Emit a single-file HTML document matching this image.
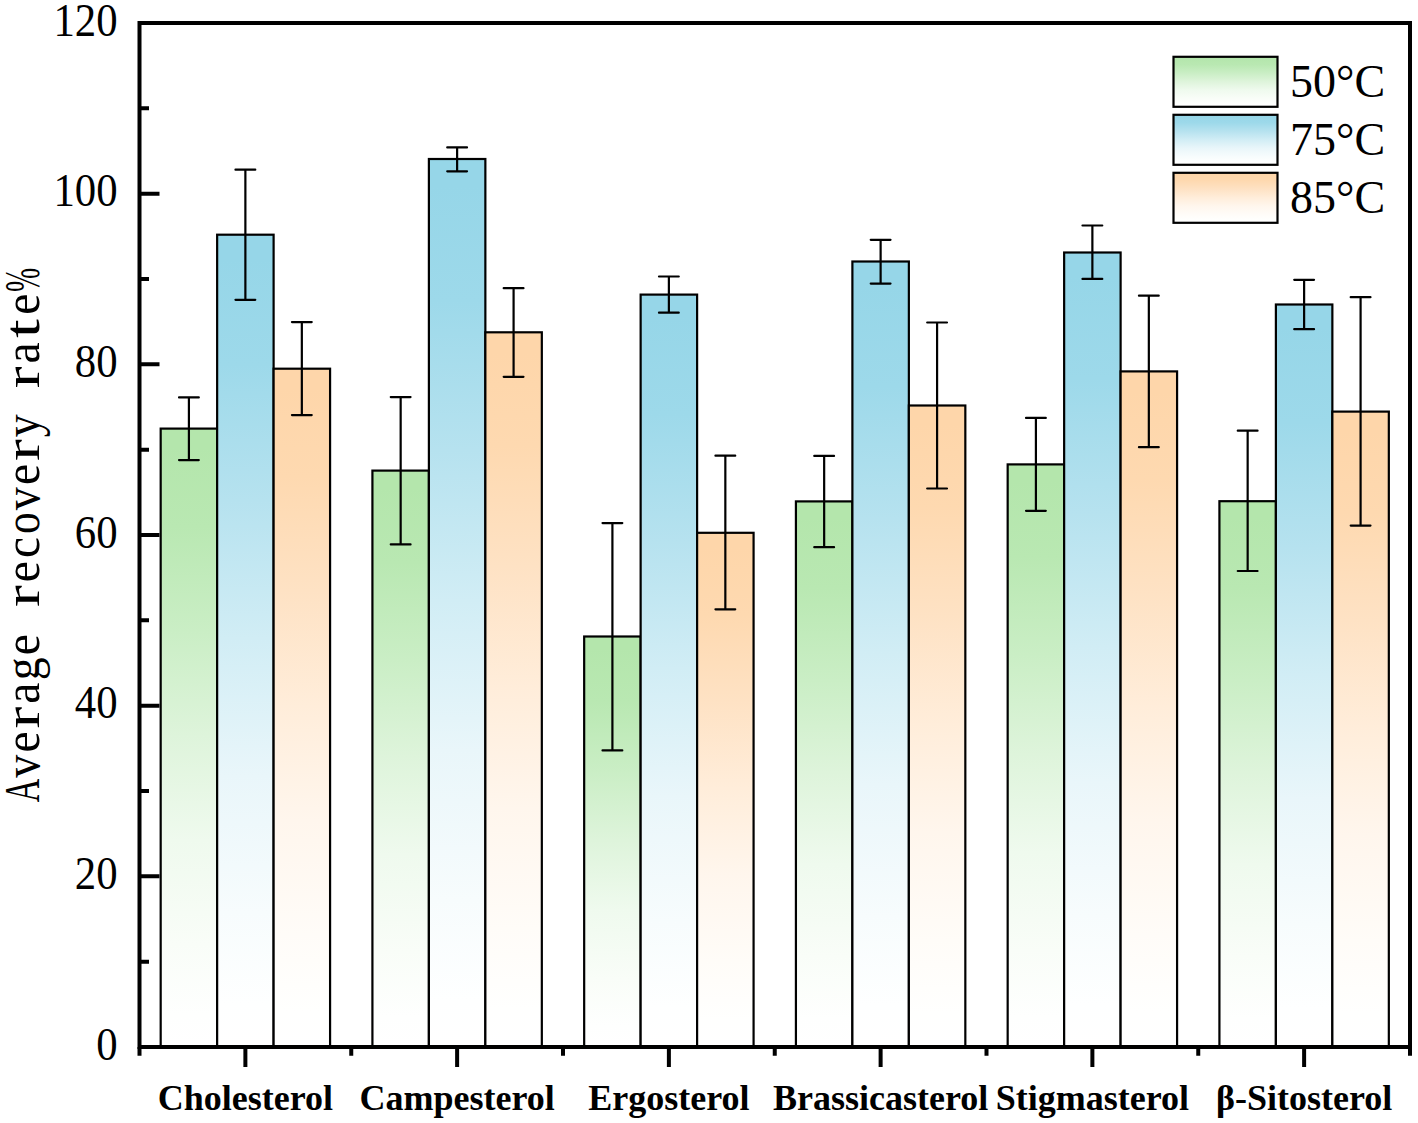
<!DOCTYPE html>
<html><head><meta charset="utf-8"><style>
html,body{margin:0;padding:0;background:#fff;}
svg{display:block;}
</style></head><body>
<svg width="1418" height="1123" viewBox="0 0 1418 1123">
<defs>
<linearGradient id="gG" x1="0" y1="0" x2="0" y2="1"><stop offset="0" stop-color="rgb(180,230,172)"/><stop offset="0.03" stop-color="rgb(180,230,172)"/><stop offset="0.159" stop-color="rgb(185,232,178)"/><stop offset="0.328" stop-color="rgb(202,238,197)"/><stop offset="0.497" stop-color="rgb(222,244,219)"/><stop offset="0.666" stop-color="rgb(239,250,238)"/><stop offset="0.834" stop-color="rgb(249,253,248)"/><stop offset="0.947" stop-color="rgb(254,255,254)"/><stop offset="1" stop-color="rgb(255,255,255)"/></linearGradient>
<linearGradient id="gB" x1="0" y1="0" x2="0" y2="1"><stop offset="0" stop-color="rgb(150,214,232)"/><stop offset="0.03" stop-color="rgb(150,214,232)"/><stop offset="0.159" stop-color="rgb(157,217,234)"/><stop offset="0.328" stop-color="rgb(182,226,239)"/><stop offset="0.497" stop-color="rgb(209,237,245)"/><stop offset="0.666" stop-color="rgb(233,246,250)"/><stop offset="0.834" stop-color="rgb(247,252,253)"/><stop offset="0.947" stop-color="rgb(254,255,255)"/><stop offset="1" stop-color="rgb(255,255,255)"/></linearGradient>
<linearGradient id="gO" x1="0" y1="0" x2="0" y2="1"><stop offset="0" stop-color="rgb(254,214,170)"/><stop offset="0.03" stop-color="rgb(254,214,170)"/><stop offset="0.159" stop-color="rgb(254,217,176)"/><stop offset="0.328" stop-color="rgb(254,226,196)"/><stop offset="0.497" stop-color="rgb(255,237,218)"/><stop offset="0.666" stop-color="rgb(255,246,237)"/><stop offset="0.834" stop-color="rgb(255,252,248)"/><stop offset="0.947" stop-color="rgb(255,255,254)"/><stop offset="1" stop-color="rgb(255,255,255)"/></linearGradient>
</defs>
<rect x="0" y="0" width="1418" height="1123" fill="#fff"/>
<rect x="160.68" y="428.60" width="56.47" height="618.40" fill="url(#gG)" stroke="#000" stroke-width="2.2"/>
<rect x="217.14" y="234.70" width="56.47" height="812.30" fill="url(#gB)" stroke="#000" stroke-width="2.2"/>
<rect x="273.61" y="368.70" width="56.47" height="678.30" fill="url(#gO)" stroke="#000" stroke-width="2.2"/>
<rect x="372.42" y="470.60" width="56.47" height="576.40" fill="url(#gG)" stroke="#000" stroke-width="2.2"/>
<rect x="428.89" y="159.00" width="56.47" height="888.00" fill="url(#gB)" stroke="#000" stroke-width="2.2"/>
<rect x="485.36" y="332.30" width="56.47" height="714.70" fill="url(#gO)" stroke="#000" stroke-width="2.2"/>
<rect x="584.17" y="636.50" width="56.47" height="410.50" fill="url(#gG)" stroke="#000" stroke-width="2.2"/>
<rect x="640.64" y="294.60" width="56.47" height="752.40" fill="url(#gB)" stroke="#000" stroke-width="2.2"/>
<rect x="697.11" y="532.80" width="56.47" height="514.20" fill="url(#gO)" stroke="#000" stroke-width="2.2"/>
<rect x="795.92" y="501.40" width="56.47" height="545.60" fill="url(#gG)" stroke="#000" stroke-width="2.2"/>
<rect x="852.39" y="261.50" width="56.47" height="785.50" fill="url(#gB)" stroke="#000" stroke-width="2.2"/>
<rect x="908.86" y="405.50" width="56.47" height="641.50" fill="url(#gO)" stroke="#000" stroke-width="2.2"/>
<rect x="1007.67" y="464.40" width="56.47" height="582.60" fill="url(#gG)" stroke="#000" stroke-width="2.2"/>
<rect x="1064.14" y="252.50" width="56.47" height="794.50" fill="url(#gB)" stroke="#000" stroke-width="2.2"/>
<rect x="1120.61" y="371.40" width="56.47" height="675.60" fill="url(#gO)" stroke="#000" stroke-width="2.2"/>
<rect x="1219.42" y="501.20" width="56.47" height="545.80" fill="url(#gG)" stroke="#000" stroke-width="2.2"/>
<rect x="1275.89" y="304.50" width="56.47" height="742.50" fill="url(#gB)" stroke="#000" stroke-width="2.2"/>
<rect x="1332.36" y="411.60" width="56.47" height="635.40" fill="url(#gO)" stroke="#000" stroke-width="2.2"/>
<path d="M188.91 397.40V460.10M179.01 397.40H198.81M179.01 460.10H198.81" stroke="#000" stroke-width="2.2" fill="none" stroke-linecap="round"/>
<path d="M245.38 169.70V299.80M235.47 169.70H255.28M235.47 299.80H255.28" stroke="#000" stroke-width="2.2" fill="none" stroke-linecap="round"/>
<path d="M301.84 322.10V415.10M291.94 322.10H311.74M291.94 415.10H311.74" stroke="#000" stroke-width="2.2" fill="none" stroke-linecap="round"/>
<path d="M400.66 397.10V544.40M390.76 397.10H410.56M390.76 544.40H410.56" stroke="#000" stroke-width="2.2" fill="none" stroke-linecap="round"/>
<path d="M457.12 147.40V171.30M447.23 147.40H467.02M447.23 171.30H467.02" stroke="#000" stroke-width="2.2" fill="none" stroke-linecap="round"/>
<path d="M513.59 288.20V376.80M503.69 288.20H523.49M503.69 376.80H523.49" stroke="#000" stroke-width="2.2" fill="none" stroke-linecap="round"/>
<path d="M612.41 523.10V750.40M602.51 523.10H622.31M602.51 750.40H622.31" stroke="#000" stroke-width="2.2" fill="none" stroke-linecap="round"/>
<path d="M668.88 276.50V312.70M658.98 276.50H678.77M658.98 312.70H678.77" stroke="#000" stroke-width="2.2" fill="none" stroke-linecap="round"/>
<path d="M725.34 455.70V609.30M715.44 455.70H735.24M715.44 609.30H735.24" stroke="#000" stroke-width="2.2" fill="none" stroke-linecap="round"/>
<path d="M824.16 455.90V547.20M814.26 455.90H834.06M814.26 547.20H834.06" stroke="#000" stroke-width="2.2" fill="none" stroke-linecap="round"/>
<path d="M880.62 239.80V283.60M870.73 239.80H890.52M870.73 283.60H890.52" stroke="#000" stroke-width="2.2" fill="none" stroke-linecap="round"/>
<path d="M937.09 322.50V488.50M927.19 322.50H946.99M927.19 488.50H946.99" stroke="#000" stroke-width="2.2" fill="none" stroke-linecap="round"/>
<path d="M1035.91 417.90V510.80M1026.01 417.90H1045.81M1026.01 510.80H1045.81" stroke="#000" stroke-width="2.2" fill="none" stroke-linecap="round"/>
<path d="M1092.38 225.50V278.90M1082.47 225.50H1102.28M1082.47 278.90H1102.28" stroke="#000" stroke-width="2.2" fill="none" stroke-linecap="round"/>
<path d="M1148.84 295.70V447.20M1138.94 295.70H1158.74M1138.94 447.20H1158.74" stroke="#000" stroke-width="2.2" fill="none" stroke-linecap="round"/>
<path d="M1247.66 430.70V571.00M1237.76 430.70H1257.56M1237.76 571.00H1257.56" stroke="#000" stroke-width="2.2" fill="none" stroke-linecap="round"/>
<path d="M1304.12 279.80V329.20M1294.22 279.80H1314.03M1294.22 329.20H1314.03" stroke="#000" stroke-width="2.2" fill="none" stroke-linecap="round"/>
<path d="M1360.59 297.20V525.60M1350.69 297.20H1370.49M1350.69 525.60H1370.49" stroke="#000" stroke-width="2.2" fill="none" stroke-linecap="round"/>
<rect x="139.5" y="23" width="1270.5" height="1024" fill="none" stroke="#000" stroke-width="4"/>
<path d="M139.50 1047.00H159.50M139.50 961.67H149.00M139.50 876.33H159.50M139.50 791.00H149.00M139.50 705.67H159.50M139.50 620.33H149.00M139.50 535.00H159.50M139.50 449.67H149.00M139.50 364.33H159.50M139.50 279.00H149.00M139.50 193.67H159.50M139.50 108.33H149.00M139.50 23.00H159.50M245.38 1047.00V1067.00M457.12 1047.00V1067.00M668.88 1047.00V1067.00M880.62 1047.00V1067.00M1092.38 1047.00V1067.00M1304.12 1047.00V1067.00M139.50 1047.00V1055.80M351.25 1047.00V1055.80M563.00 1047.00V1055.80M774.75 1047.00V1055.80M986.50 1047.00V1055.80M1198.25 1047.00V1055.80M1410.00 1047.00V1055.80" stroke="#000" stroke-width="4" fill="none"/>
<text transform="translate(117.6,1059.80) scale(0.94,1)" text-anchor="end" font-family="Liberation Serif, serif" font-size="45.5">0</text>
<text transform="translate(117.6,889.13) scale(0.94,1)" text-anchor="end" font-family="Liberation Serif, serif" font-size="45.5">20</text>
<text transform="translate(117.6,718.47) scale(0.94,1)" text-anchor="end" font-family="Liberation Serif, serif" font-size="45.5">40</text>
<text transform="translate(117.6,547.80) scale(0.94,1)" text-anchor="end" font-family="Liberation Serif, serif" font-size="45.5">60</text>
<text transform="translate(117.6,377.13) scale(0.94,1)" text-anchor="end" font-family="Liberation Serif, serif" font-size="45.5">80</text>
<text transform="translate(117.6,206.47) scale(0.94,1)" text-anchor="end" font-family="Liberation Serif, serif" font-size="45.5">100</text>
<text transform="translate(117.6,35.80) scale(0.94,1)" text-anchor="end" font-family="Liberation Serif, serif" font-size="45.5">120</text>
<text x="245.38" y="1109.6" text-anchor="middle" font-family="Liberation Serif, serif" font-weight="bold" font-size="36">Cholesterol</text>
<text x="457.12" y="1109.6" text-anchor="middle" font-family="Liberation Serif, serif" font-weight="bold" font-size="36">Campesterol</text>
<text x="668.88" y="1109.6" text-anchor="middle" font-family="Liberation Serif, serif" font-weight="bold" font-size="36">Ergosterol</text>
<text x="880.62" y="1109.6" text-anchor="middle" font-family="Liberation Serif, serif" font-weight="bold" font-size="36">Brassicasterol</text>
<text x="1092.38" y="1109.6" text-anchor="middle" font-family="Liberation Serif, serif" font-weight="bold" font-size="36">Stigmasterol</text>
<text x="1304.12" y="1109.6" text-anchor="middle" font-family="Liberation Serif, serif" font-weight="bold" font-size="36">β-Sitosterol</text>
<text transform="translate(39.3,790.50) rotate(-90) scale(0.650,1)" text-anchor="middle" font-family="Liberation Serif, serif" font-size="50">A</text>
<text transform="translate(39.3,766.19) rotate(-90) scale(0.920,1)" text-anchor="middle" font-family="Liberation Serif, serif" font-size="50">v</text>
<text transform="translate(39.3,741.88) rotate(-90) scale(0.950,1)" text-anchor="middle" font-family="Liberation Serif, serif" font-size="50">e</text>
<text transform="translate(39.3,717.57) rotate(-90) scale(1.312,1)" text-anchor="middle" font-family="Liberation Serif, serif" font-size="50">r</text>
<text transform="translate(39.3,693.26) rotate(-90) scale(0.952,1)" text-anchor="middle" font-family="Liberation Serif, serif" font-size="50">a</text>
<text transform="translate(39.3,668.95) rotate(-90) scale(0.913,1)" text-anchor="middle" font-family="Liberation Serif, serif" font-size="50">g</text>
<text transform="translate(39.3,644.64) rotate(-90) scale(0.950,1)" text-anchor="middle" font-family="Liberation Serif, serif" font-size="50">e</text>
<text transform="translate(39.3,596.02) rotate(-90) scale(1.312,1)" text-anchor="middle" font-family="Liberation Serif, serif" font-size="50">r</text>
<text transform="translate(39.3,571.71) rotate(-90) scale(0.950,1)" text-anchor="middle" font-family="Liberation Serif, serif" font-size="50">e</text>
<text transform="translate(39.3,547.40) rotate(-90) scale(0.950,1)" text-anchor="middle" font-family="Liberation Serif, serif" font-size="50">c</text>
<text transform="translate(39.3,523.09) rotate(-90) scale(0.870,1)" text-anchor="middle" font-family="Liberation Serif, serif" font-size="50">o</text>
<text transform="translate(39.3,498.78) rotate(-90) scale(0.920,1)" text-anchor="middle" font-family="Liberation Serif, serif" font-size="50">v</text>
<text transform="translate(39.3,474.47) rotate(-90) scale(0.950,1)" text-anchor="middle" font-family="Liberation Serif, serif" font-size="50">e</text>
<text transform="translate(39.3,450.16) rotate(-90) scale(1.312,1)" text-anchor="middle" font-family="Liberation Serif, serif" font-size="50">r</text>
<text transform="translate(39.3,425.85) rotate(-90) scale(0.920,1)" text-anchor="middle" font-family="Liberation Serif, serif" font-size="50">y</text>
<text transform="translate(39.3,377.23) rotate(-90) scale(1.312,1)" text-anchor="middle" font-family="Liberation Serif, serif" font-size="50">r</text>
<text transform="translate(39.3,352.92) rotate(-90) scale(0.952,1)" text-anchor="middle" font-family="Liberation Serif, serif" font-size="50">a</text>
<text transform="translate(39.3,328.61) rotate(-90) scale(1.357,1)" text-anchor="middle" font-family="Liberation Serif, serif" font-size="50">t</text>
<text transform="translate(39.3,304.30) rotate(-90) scale(0.950,1)" text-anchor="middle" font-family="Liberation Serif, serif" font-size="50">e</text>
<text transform="translate(39.3,279.99) rotate(-90) scale(0.582,1)" text-anchor="middle" font-family="Liberation Serif, serif" font-size="50">%</text>
<rect x="1173.5" y="56.80" width="104" height="50" fill="url(#gG)" stroke="#000" stroke-width="2.2"/>
<text x="1290" y="97.20" font-family="Liberation Serif, serif" font-size="46">50°C</text>
<rect x="1173.5" y="114.80" width="104" height="50" fill="url(#gB)" stroke="#000" stroke-width="2.2"/>
<text x="1290" y="155.20" font-family="Liberation Serif, serif" font-size="46">75°C</text>
<rect x="1173.5" y="172.80" width="104" height="50" fill="url(#gO)" stroke="#000" stroke-width="2.2"/>
<text x="1290" y="213.20" font-family="Liberation Serif, serif" font-size="46">85°C</text>
</svg></body></html>
